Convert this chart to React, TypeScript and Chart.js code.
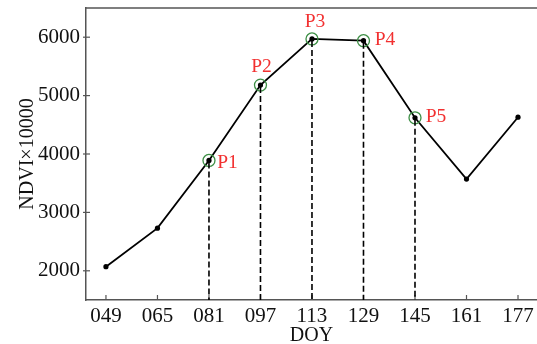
import React, { useEffect, useRef } from "react";
import { Chart, registerables } from "chart.js";

Chart.register(...registerables);

const doy = [49, 65, 81, 97, 113, 129, 145, 161, 177];
const xTickLabels = ["049", "065", "081", "097", "113", "129", "145", "161", "177"];
const ndvi = [2070, 2730, 3890, 5180, 5970, 5940, 4620, 3570, 4630];
const yTicks = [2000, 3000, 4000, 5000, 6000];
const keyIndex = [2, 3, 4, 5, 6];
const keyLabels = ["P1", "P2", "P3", "P4", "P5"];
const labelOffsets: [number, number][] = [
  [18.5, 1.5],
  [1, -20],
  [3, -18],
  [21.5, -2],
  [21, -2.5],
];

const FONT = "'Liberation Serif', 'Times New Roman', serif";

export default function App() {
  const ref = useRef<HTMLCanvasElement | null>(null);
  useEffect(() => {
    document.body.style.margin = "0";
    const canvas = ref.current!;
    const zeroPad = (s: any) => {
      s.paddingTop = 0;
      s.paddingBottom = 0;
      s.paddingLeft = 0;
      s.paddingRight = 0;
    };
    const overlay = {
      id: "overlay",
      afterDatasetsDraw(chart: any) {
        const ctx = chart.ctx as CanvasRenderingContext2D;
        const xs = chart.scales.x;
        const ys = chart.scales.y;
        const area = chart.chartArea;
        ctx.save();
        ctx.strokeStyle = "#555";
        ctx.lineWidth = 1.5;
        ctx.beginPath();
        ctx.moveTo(area.left, area.top);
        ctx.lineTo(area.right, area.top);
        ctx.stroke();
        ctx.lineWidth = 1.2;
        doy.forEach((d) => {
          const px = xs.getPixelForValue(d);
          ctx.beginPath();
          ctx.moveTo(px, area.bottom);
          ctx.lineTo(px, area.bottom - 5);
          ctx.stroke();
        });
        yTicks.forEach((v) => {
          const py = ys.getPixelForValue(v);
          ctx.beginPath();
          ctx.moveTo(area.left - 3, py);
          ctx.lineTo(area.left + 4, py);
          ctx.stroke();
        });
        ctx.strokeStyle = "#000";
        ctx.lineWidth = 1.6;
        ctx.setLineDash([6, 3]);
        keyIndex.forEach((i) => {
          const px = xs.getPixelForValue(doy[i]);
          const py = ys.getPixelForValue(ndvi[i]);
          ctx.beginPath();
          ctx.moveTo(px, py + 2);
          ctx.lineTo(px, area.bottom);
          ctx.stroke();
        });
        ctx.setLineDash([]);
        ctx.fillStyle = "#f23030";
        ctx.font = `19.5px ${FONT}`;
        ctx.textAlign = "center";
        ctx.textBaseline = "alphabetic";
        keyIndex.forEach((i, k) => {
          const px = xs.getPixelForValue(doy[i]);
          const py = ys.getPixelForValue(ndvi[i]);
          ctx.fillText(keyLabels[k], px + labelOffsets[k][0], py + labelOffsets[k][1] + 6.5);
        });
        ctx.fillStyle = "#111";
        ctx.font = `20px ${FONT}`;
        ctx.textBaseline = "middle";
        ctx.fillText("DOY", (area.left + area.right) / 2, 336);
        ctx.save();
        ctx.translate(28, (area.top + area.bottom) / 2);
        ctx.rotate(-Math.PI / 2);
        ctx.fillText("NDVI×10000", 0, 0);
        ctx.restore();
        ctx.restore();
      },
    };
    const chart = new Chart(canvas, {
      type: "line",
      data: {
        datasets: [
          {
            data: doy.map((d, i) => ({ x: d, y: ndvi[i] })),
            borderColor: "#000",
            borderWidth: 1.8,
            pointRadius: 2.6,
            pointBackgroundColor: "#000",
            pointBorderWidth: 0,
            tension: 0,
            order: 2,
          },
          {
            data: keyIndex.map((i) => ({ x: doy[i], y: ndvi[i] })),
            showLine: false,
            pointRadius: 6,
            pointBorderColor: "#3d8f45",
            pointBackgroundColor: "rgba(0,0,0,0)",
            pointBorderWidth: 1.3,
            order: 1,
          },
        ],
      },
      options: {
        animation: false,
        responsive: false,
        maintainAspectRatio: false,
        layout: { autoPadding: false, padding: { top: 8, right: 0, left: 0, bottom: 0 } },
        plugins: { legend: { display: false }, tooltip: { enabled: false } },
        scales: {
          x: {
            type: "linear",
            min: 42.8,
            max: 182.9,
            grid: { display: false, drawTicks: false },
            border: { display: true, color: "#555", width: 1.5 },
            afterBuildTicks: (s: any) => {
              s.ticks = doy.map((v) => ({ value: v }));
            },
            afterFit: (s: any) => {
              s.height = 44;
              zeroPad(s);
            },
            ticks: {
              autoSkip: false,
              maxRotation: 0,
              padding: 4,
              color: "#111",
              font: { family: FONT, size: 21 },
              callback: (v: any) => xTickLabels[doy.indexOf(Number(v))] ?? "",
            },
          },
          y: {
            min: 1500,
            max: 6500,
            grid: { display: false, drawTicks: false },
            border: { display: true, color: "#555", width: 1.5 },
            afterBuildTicks: (s: any) => {
              s.ticks = yTicks.map((v) => ({ value: v }));
            },
            afterFit: (s: any) => {
              s.width = 86;
              zeroPad(s);
            },
            ticks: {
              padding: 6,
              color: "#111",
              font: { family: FONT, size: 21 },
              callback: (v: any) => String(v),
            },
          },
        },
      },
      plugins: [overlay],
    });
    return () => chart.destroy();
  }, []);
  return (
    <div style={{ position: "relative", width: 537, height: 344 }}>
      <canvas ref={ref} width={537} height={344} style={{ width: 537, height: 344, display: "block" }} />
    </div>
  );
}
